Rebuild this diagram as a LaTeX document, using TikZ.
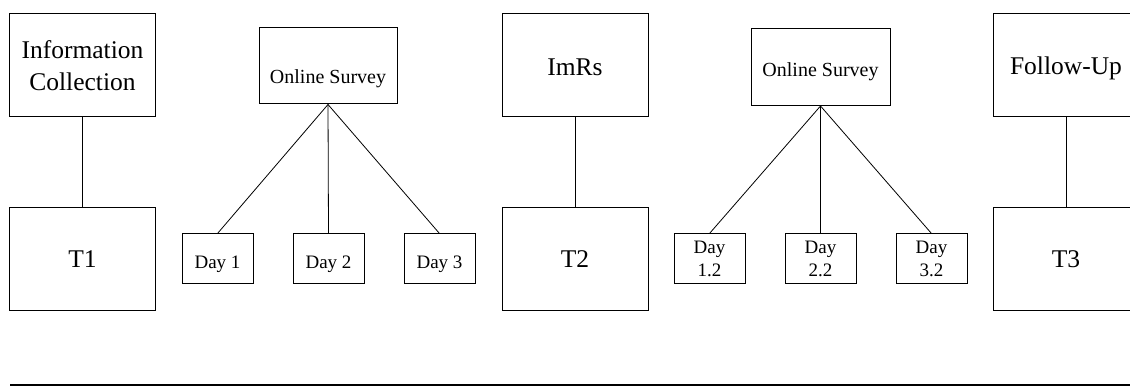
\documentclass[tikz,border=0pt]{standalone}
\usepackage{fontspec}
\setmainfont{Liberation Serif}
\begin{document}
\begin{tikzpicture}[x=1pt,y=-1pt,
  bigbox/.style={draw,line width=1pt,minimum width=146pt,minimum height=103pt,inner sep=0pt,align=center,font=\fontsize{25.5}{32}\selectfont},
  svbox/.style={draw,line width=1pt,minimum width=138pt,minimum height=76pt,inner sep=0pt,align=center,font=\fontsize{20}{23}\selectfont,text depth=0pt},
  daybox/.style={draw,line width=1pt,minimum width=71pt,minimum height=50pt,inner sep=0pt,align=center,font=\fontsize{19}{23}\selectfont},
  oneline/.style={text height=#1,text depth=0pt},
  link/.style={line width=0.8pt}]
\useasboundingbox (0,0) rectangle (1130,387);
\clip (0,0) rectangle (1130,387);
% column 1
\node[bigbox] (info) at (82.5,65.5) {Information\\Collection};
\node[bigbox,oneline=17pt] (t1) at (82.5,259.5) {T1};
\draw[link] (info.south) -- (t1.north);
% survey 1
\node[svbox,oneline=36pt] (os1) at (328,66) {Online Survey};
\node[daybox,oneline=20pt] (d1) at (217.5,259) {Day 1};
\node[daybox,oneline=20pt] (d2) at (328.5,259) {Day 2};
\node[daybox,oneline=20pt] (d3) at (439.5,259) {Day 3};
\draw[link] (os1.south) -- (d1.north);
\draw[link] (os1.south) -- (d2.north);
\draw[link] (os1.south) -- (d3.north);
% column 2
\node[bigbox,oneline=21pt] (imrs) at (575,65.5) {ImRs};
\node[bigbox,oneline=17pt] (t2) at (575,259.5) {T2};
\draw[link] (imrs.south) -- (t2.north);
% survey 2
\node[svbox,oneline=20pt,minimum width=139pt,minimum height=77pt] (os2) at (820.5,67) {Online Survey};
\node[daybox] (d12) at (709.5,259) {Day\\1.2};
\node[daybox] (d22) at (820.5,259) {Day\\2.2};
\node[daybox] (d32) at (931.5,259) {Day\\3.2};
\draw[link] (os2.south) -- (d12.north);
\draw[link] (os2.south) -- (d22.north);
\draw[link] (os2.south) -- (d32.north);
% column 3
\node[bigbox,oneline=19pt] (fu) at (1066,65.5) {Follow-Up};
\node[bigbox,oneline=17pt] (t3) at (1066,259.5) {T3};
\draw[link] (fu.south) -- (t3.north);
% bottom rule
\coordinate (ruleL) at (10,385);
\coordinate (ruleR) at (1135,385);
\draw[line width=2pt] (ruleL) -- (ruleR);
\end{tikzpicture}
\end{document}
